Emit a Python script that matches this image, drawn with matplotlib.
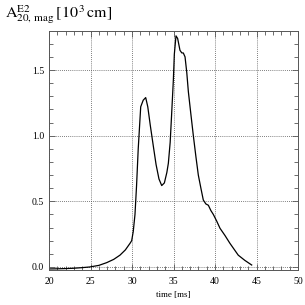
import matplotlib
matplotlib.use("Agg")
import matplotlib.pyplot as plt
from matplotlib.ticker import MultipleLocator, FormatStrFormatter

time_ms = [20.0, 21.0, 22.0, 22.9, 24.0, 24.9, 26.0, 26.95, 27.8, 28.55, 29.2, 29.76, 29.96,
           30.15, 30.36, 30.55, 30.75, 31.05, 31.35, 31.65, 31.9, 32.2, 32.57, 32.9, 33.25,
           33.58, 33.9, 34.2, 34.38, 34.6, 34.78, 34.98, 35.1, 35.3, 35.5, 35.78, 36.0,
           36.18, 36.39, 36.6, 36.79, 37.1, 37.39, 37.7, 37.99, 38.3, 38.59, 38.9, 39.2,
           39.5, 39.8, 40.2, 40.6, 41.2, 41.8, 42.3, 42.8, 43.6, 44.42]
a20 = [-0.015, -0.014, -0.012, -0.01, -0.005, 0.0, 0.012, 0.033, 0.058, 0.09, 0.13, 0.18, 0.2,
       0.27, 0.40, 0.62, 0.90, 1.22, 1.27, 1.29, 1.22, 1.08, 0.92, 0.78, 0.67,
       0.62, 0.64, 0.72, 0.79, 0.95, 1.17, 1.42, 1.62, 1.76, 1.74, 1.65, 1.63,
       1.63, 1.60, 1.48, 1.335, 1.16, 1.0, 0.84, 0.70, 0.60, 0.51, 0.48, 0.47,
       0.43, 0.40, 0.35, 0.295, 0.24, 0.18, 0.135, 0.09, 0.05, 0.015]

plt.rcParams['font.family'] = ['Liberation Serif', 'DejaVu Serif']
plt.rcParams['mathtext.fontset'] = 'stix'

fig = plt.figure(figsize=(3.05, 3.05), dpi=100)
ax = fig.add_axes([49/305, 35/305, 249/305, 239/305])
ax.plot(time_ms, a20, color='black', lw=0.9)
ax.set_xlim(20, 50)
ax.set_ylim(-0.023, 1.797)
ax.xaxis.set_major_locator(MultipleLocator(5))
ax.xaxis.set_minor_locator(MultipleLocator(1))
ax.yaxis.set_major_locator(MultipleLocator(0.5))
ax.yaxis.set_minor_locator(MultipleLocator(0.1))
ax.yaxis.set_major_formatter(FormatStrFormatter('%.1f'))
ax.tick_params(which='both', direction='in', top=True, right=True, labelsize=7,
               color='#555555', width=0.6)
ax.tick_params(axis='x', which='both', pad=5)
ax.tick_params(which='major', length=4)
ax.tick_params(which='minor', length=3)
ax.grid(True, which='major', color='#555555', linestyle=(0, (1, 1.5)), lw=0.6)
for s in ax.spines.values():
    s.set_color('#555555')
    s.set_linewidth(0.7)
ax.set_xlabel('time [ms]', fontsize=6.5, labelpad=4)
fig.text(5/305, 1 - 18/305, r'$\mathrm{A}^{\mathrm{E2}}_{\mathrm{20,\,mag}}\,[10^{\,3}\,\mathrm{cm}]$',
         fontsize=11.5, ha='left', va='baseline')
fig.savefig('out.png', dpi=100)
